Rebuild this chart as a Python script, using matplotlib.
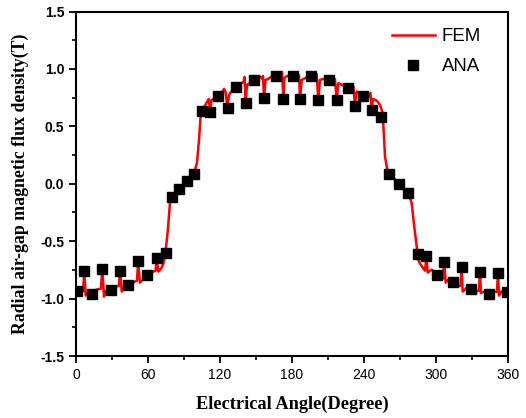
import matplotlib
matplotlib.use("Agg")
import matplotlib.pyplot as plt
from matplotlib.ticker import MultipleLocator

# ---- data ----
fem_angle = [0, 3.3, 5.8, 6.9, 8.1, 10, 17.25, 20.8, 21.9, 23.3, 25, 28.3, 33.9, 35.8, 36.7, 38.1, 40,
             43.6, 49.2, 50.8, 51.8, 53.3, 55.8, 58.9, 64.4, 66.25, 67.25, 68.6, 71.4, 73.3, 74.6, 76.7,
             78.3, 80, 85.8, 92.5, 98.3, 100.8, 102.5, 103.75, 105, 108.3, 110.6, 111.7, 112.9, 115,
             118.6, 121.7, 123.3, 124.6, 126.25, 127.5, 129.2, 133.1, 135.8, 139.6, 140.4, 141.4, 142.5,
             145, 148.3, 150.8, 152.5, 155.4, 155.8, 156.7, 157.9, 160, 163.3, 166.4, 169.2, 170.8,
             171.7, 172.75, 173.75, 175.8, 178.3, 183.9, 185.8, 186.7, 188.1, 190.8, 195.8, 199.2,
             200.6, 201.9, 203.3, 206.1, 210.8, 214.4, 215.8, 217.25, 218.6, 222.75, 226.9, 229.75,
             231.1, 232.5, 233.9, 238.1, 240.8, 243.6, 245.4, 246.4, 247.5, 250.8, 253.3, 255.6, 257.5,
             259.4, 261.1, 269.2, 276.9, 279.75, 281.7, 283.9, 285.25, 286.7, 290.8, 292.1, 293.1,
             296.4, 300.6, 304.75, 305.8, 306.7, 308.1, 310.25, 314.4, 318.6, 320.4, 321.4, 322.25,
             325.6, 329.2, 333.9, 335.8, 336.7, 337.4, 340.8, 343.9, 347.75, 350.8, 351.7, 352.5,
             354.75, 358.9, 360]
fem_value = [-0.939, -0.952, -0.939, -0.774, -0.974, -0.948, -0.922, -0.913, -0.730, -0.983, -0.930,
             -0.922, -0.896, -0.887, -0.730, -0.939, -0.896, -0.878, -0.852, -0.843, -0.678, -0.861,
             -0.835, -0.796, -0.765, -0.757, -0.652, -0.765, -0.730, -0.678, -0.600, -0.383, -0.165,
             -0.117, -0.048, 0.017, 0.083, 0.183, 0.383, 0.574, 0.635, 0.696, 0.739, 0.635, 0.730,
             0.739, 0.765, 0.791, 0.826, 0.800, 0.661, 0.774, 0.800, 0.843, 0.861, 0.887, 0.930, 0.704,
             0.861, 0.878, 0.904, 0.913, 0.939, 0.913, 0.939, 0.748, 0.904, 0.913, 0.935, 0.939, 0.948,
             0.939, 0.974, 0.739, 0.922, 0.939, 0.933, 0.919, 0.948, 0.739, 0.904, 0.919, 0.939, 0.919,
             0.954, 0.730, 0.904, 0.913, 0.898, 0.881, 0.910, 0.730, 0.876, 0.855, 0.832, 0.817, 0.846,
             0.687, 0.803, 0.780, 0.765, 0.750, 0.791, 0.643, 0.739, 0.722, 0.687, 0.615, 0.237, 0.122,
             0.087, -0.003, -0.081, -0.168, -0.357, -0.545, -0.661, -0.696, -0.757, -0.635, -0.774,
             -0.748, -0.791, -0.835, -0.826, -0.670, -0.861, -0.835, -0.858, -0.893, -0.887, -0.722,
             -0.939, -0.907, -0.913, -0.937, -0.930, -0.748, -0.952, -0.937, -0.957, -0.937, -0.943,
             -0.761, -0.974, -0.937, -0.946, -0.943]

ana_angle = [0.6, 6.9, 13.3, 21.9, 29.2, 36.7, 43.6, 51.7, 58.9, 67.25, 74.6, 80.0, 85.8, 92.5, 98.3,
             105.0, 111.7, 118.6, 126.4, 133.1, 141.4, 148.3, 156.7, 166.4, 172.75, 180.6, 186.7,
             195.8, 201.9, 210.8, 217.2, 226.9, 232.5, 239.4, 246.4, 254.2, 261.1, 269.2, 276.9,
             284.75, 291.9, 300.6, 306.7, 314.4, 321.7, 329.2, 336.7, 343.9, 351.7, 358.9]
ana_value = [-0.937, -0.763, -0.957, -0.739, -0.922, -0.763, -0.878, -0.676, -0.794, -0.646, -0.604,
             -0.119, -0.046, 0.020, 0.084, 0.635, 0.629, 0.765, 0.658, 0.846, 0.702, 0.904, 0.745,
             0.942, 0.739, 0.939, 0.739, 0.939, 0.725, 0.900, 0.725, 0.832, 0.681, 0.765, 0.638,
             0.585, 0.087, -0.003, -0.081, -0.609, -0.632, -0.791, -0.684, -0.858, -0.728, -0.913,
             -0.771, -0.957, -0.780, -0.945]

x_ticks = [0, 60, 120, 180, 240, 300, 360]
y_ticks = [-1.5, -1.0, -0.5, 0.0, 0.5, 1.0, 1.5]
y_tick_labels = ["-1.5", "-1.0", "-0.5", "0.0", "0.5", "1.0", "1.5"]

# ---- figure ----
fig = plt.figure(figsize=(5.26, 4.18), dpi=100)
ax = fig.add_axes([76 / 526, 62 / 418, 432 / 526, 344.5 / 418])

ax.plot(fem_angle, fem_value, color="#ff0000", lw=1.8, label="FEM", zorder=2)
ax.plot(ana_angle, ana_value, linestyle="none", marker="s", color="black",
        markersize=6.5, label="ANA", zorder=3)

ax.set_xlim(0, 360)
ax.set_ylim(-1.5, 1.5)
ax.set_xticks(x_ticks)
ax.set_yticks(y_ticks)
ax.set_yticklabels(y_tick_labels)
ax.xaxis.set_minor_locator(MultipleLocator(30))
ax.yaxis.set_minor_locator(MultipleLocator(0.25))

for s in ax.spines.values():
    s.set_linewidth(1.5)
ax.tick_params(which="major", direction="out", length=5, width=1.3, top=False, right=False)
ax.tick_params(which="minor", direction="out", length=3, width=1.2, top=False, right=False)

for lab in ax.get_xticklabels():
    lab.set_fontfamily("Liberation Sans")
    lab.set_fontsize(10)
for lab in ax.get_yticklabels():
    lab.set_fontfamily("Liberation Sans")
    lab.set_fontsize(10)
    lab.set_fontweight("bold")

ax.set_xlabel("Electrical Angle(Degree)", fontfamily="Liberation Serif", fontweight="bold",
              fontsize=13.2, labelpad=10)
ax.set_ylabel("Radial air-gap magnetic flux density(T)", fontfamily="Liberation Serif",
              fontweight="bold", fontsize=12.8, labelpad=8)

leg = ax.legend(loc="upper right", bbox_to_anchor=(0.972, 0.995), frameon=False,
                prop={"family": "Liberation Sans", "size": 13.4}, handlelength=2.35,
                handletextpad=0.35, labelspacing=0.7, borderaxespad=0.4)

fig.savefig("out.png", dpi=100)
